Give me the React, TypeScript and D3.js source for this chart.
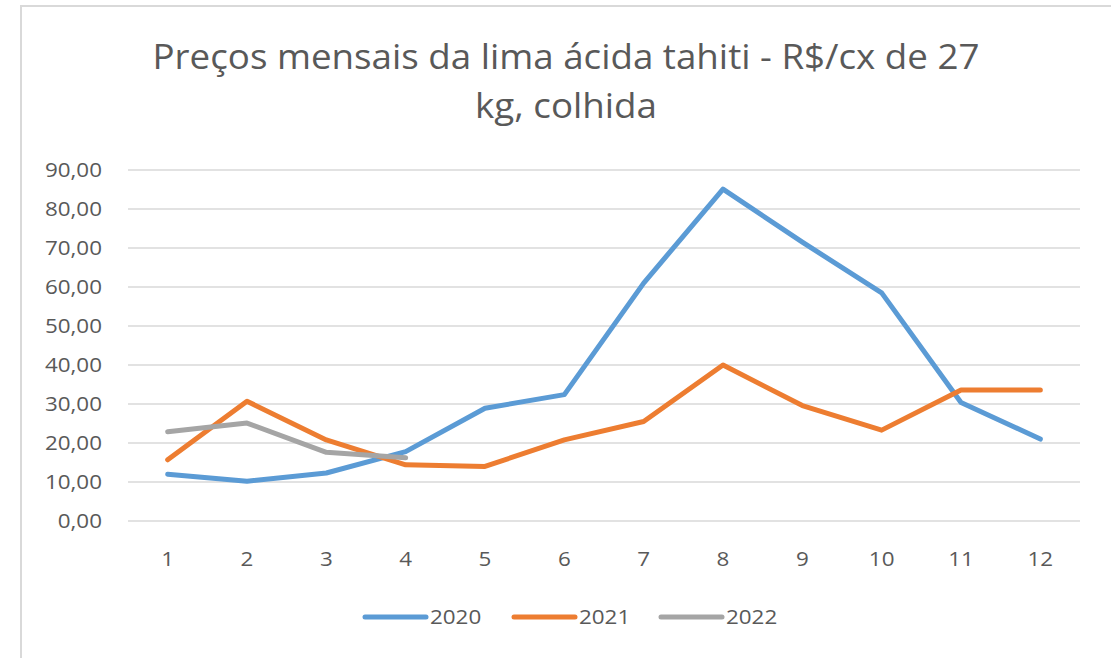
import { useEffect, useRef } from 'react';
import * as d3 from 'd3';

const months = ['1', '2', '3', '4', '5', '6', '7', '8', '9', '10', '11', '12'];
const yTicks = [0, 10, 20, 30, 40, 50, 60, 70, 80, 90];
const values2020 = [12.0, 10.2, 12.3, 17.8, 28.9, 32.4, 61.0, 85.1, 71.5, 58.5, 30.4, 21.0];
const values2021 = [15.7, 30.7, 20.8, 14.4, 14.0, 20.8, 25.5, 40.0, 29.6, 23.3, 33.6, 33.6];
const values2022 = [22.9, 25.1, 17.6, 16.2];
const seriesNames = ['2020', '2021', '2022'];
const colors = ['#5B9BD5', '#ED7D31', '#A5A5A5'];

const App = () => {
  const ref = useRef(null);

  useEffect(() => {
    const width = 1111;
    const height = 658;
    const svg = d3.select(ref.current);
    svg.selectAll('*').remove();

    const font = 'Open Sans, sans-serif';
    // the reference text is a bit wider than Open Sans
    const widen = (sel, k) => sel.each(function () {
      const len = this.getComputedTextLength();
      d3.select(this).attr('textLength', len * k).attr('lengthAdjust', 'spacingAndGlyphs');
    });

    // chart frame
    svg.append('rect')
      .attr('x', 21)
      .attr('y', 6)
      .attr('width', width + 20)
      .attr('height', height + 20)
      .attr('fill', '#fff')
      .attr('stroke', '#D9D9D9')
      .attr('stroke-width', 2);

    const titleLines = ['Preços mensais da lima ácida tahiti - R$/cx de 27', 'kg, colhida'];
    const title = svg.append('g')
      .selectAll('text')
      .data(titleLines)
      .join('text')
      .attr('x', 566)
      .attr('y', (d, i) => 69 + i * 49)
      .attr('text-anchor', 'middle')
      .attr('font-family', font)
      .attr('font-size', 34)
      .attr('fill', '#595959')
      .text((d) => d);
    widen(title, 1.08);

    const x = d3.scaleBand().domain(months).range([128, 1080]);
    const y = d3.scaleLinear().domain([0, 90]).range([521, 170]);
    const fmt = (d) => d3.format('.2f')(d).replace('.', ',');

    svg.append('g')
      .selectAll('line')
      .data(yTicks)
      .join('line')
      .attr('x1', 128)
      .attr('x2', 1080)
      .attr('y1', (d) => y(d))
      .attr('y2', (d) => y(d))
      .attr('stroke', '#D9D9D9')
      .attr('stroke-width', 1.5);

    const yLabels = svg.append('g')
      .selectAll('text')
      .data(yTicks)
      .join('text')
      .attr('x', 102)
      .attr('y', (d) => y(d))
      .attr('dy', '0.36em')
      .attr('text-anchor', 'end')
      .attr('font-family', font)
      .attr('font-size', 20)
      .attr('fill', '#595959')
      .text(fmt);
    widen(yLabels, 1.12);

    const xLabels = svg.append('g')
      .selectAll('text')
      .data(months)
      .join('text')
      .attr('x', (d) => x(d) + x.bandwidth() / 2)
      .attr('y', 566)
      .attr('text-anchor', 'middle')
      .attr('font-family', font)
      .attr('font-size', 20)
      .attr('fill', '#595959')
      .text((d) => d);
    widen(xLabels, 1.12);

    const line = d3.line()
      .x((d, i) => x(months[i]) + x.bandwidth() / 2)
      .y((d) => y(d));

    [values2020, values2021, values2022].forEach((vals, i) => {
      svg.append('path')
        .datum(vals)
        .attr('d', line)
        .attr('fill', 'none')
        .attr('stroke', colors[i])
        .attr('stroke-width', 5)
        .attr('stroke-linejoin', 'round')
        .attr('stroke-linecap', 'round');
    });

    // legend
    const legendX = [363, 512, 659];
    const lg = svg.append('g')
      .selectAll('g')
      .data(seriesNames)
      .join('g')
      .attr('transform', (d, i) => `translate(${legendX[i]},617)`);
    lg.append('line')
      .attr('x1', 2)
      .attr('x2', 63)
      .attr('stroke', (d, i) => colors[i])
      .attr('stroke-width', 5)
      .attr('stroke-linecap', 'round');
    const lgText = lg.append('text')
      .attr('x', 67)
      .attr('dy', '0.36em')
      .attr('font-family', font)
      .attr('font-size', 20)
      .attr('fill', '#595959')
      .text((d) => d);
    widen(lgText, 1.12);
  }, []);

  return (
    <svg ref={ref} width={1111} height={658} style={{ position: 'absolute', left: 0, top: 0 }}></svg>
  );
};

export default App;
